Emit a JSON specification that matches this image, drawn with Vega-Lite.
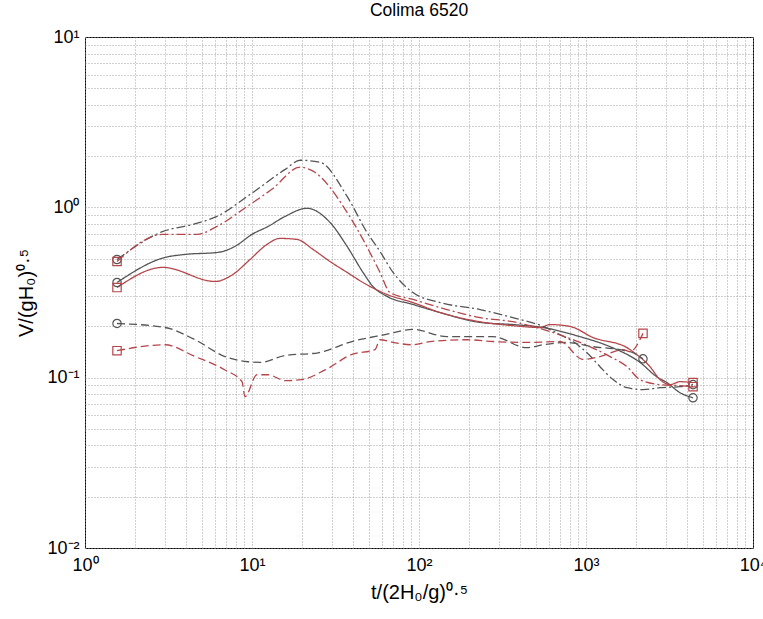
{
  "$schema": "https://vega.github.io/schema/vega-lite/v6.json",
  "width": 668,
  "height": 511,
  "autosize": {"type": "none"},
  "padding": {"left": 85, "top": 37, "right": 10, "bottom": 71},
  "background": "white",
  "title": {"text": "Colima 6520", "fontSize": 17.5, "font": "Liberation Sans", "fontWeight": "normal", "offset": 9, "anchor": "middle", "color": "black"},
  "config": {
    "view": {"stroke": "black", "strokeWidth": 1},
    "axis": {"labelFont": "Liberation Sans", "titleFont": "Liberation Sans", "labelColor": "black", "titleColor": "black", "titleFontWeight": "normal", "gridDash": [1, 2], "gridColor": "#999999", "gridOpacity": 0.9, "domain": false, "tickColor": "#555", "tickSize": 0, "labelFontSize": 18, "titleFontSize": 20}
  },
  "datasets": {
    "curves": [
      {"run": "grey", "kind": "mid", "x": 1.555, "y": 0.362},
      {"run": "grey", "kind": "mid", "x": 3.01, "y": 0.508},
      {"run": "grey", "kind": "mid", "x": 3.97, "y": 0.529},
      {"run": "grey", "kind": "mid", "x": 6.26, "y": 0.544},
      {"run": "grey", "kind": "mid", "x": 7.91, "y": 0.59},
      {"run": "grey", "kind": "mid", "x": 10.0, "y": 0.694},
      {"run": "grey", "kind": "mid", "x": 12.5, "y": 0.773},
      {"run": "grey", "kind": "mid", "x": 15.8, "y": 0.885},
      {"run": "grey", "kind": "mid", "x": 21.3, "y": 0.987},
      {"run": "grey", "kind": "mid", "x": 29.3, "y": 0.816},
      {"run": "grey", "kind": "mid", "x": 37.1, "y": 0.59},
      {"run": "grey", "kind": "mid", "x": 46.2, "y": 0.415},
      {"run": "grey", "kind": "mid", "x": 53.0, "y": 0.343},
      {"run": "grey", "kind": "mid", "x": 64.3, "y": 0.3},
      {"run": "grey", "kind": "mid", "x": 92, "y": 0.269},
      {"run": "grey", "kind": "mid", "x": 134, "y": 0.241},
      {"run": "grey", "kind": "mid", "x": 232, "y": 0.211},
      {"run": "grey", "kind": "mid", "x": 365, "y": 0.205},
      {"run": "grey", "kind": "mid", "x": 553, "y": 0.197},
      {"run": "grey", "kind": "mid", "x": 921, "y": 0.174},
      {"run": "grey", "kind": "mid", "x": 1393, "y": 0.152},
      {"run": "grey", "kind": "mid", "x": 2105, "y": 0.123},
      {"run": "grey", "kind": "mid", "x": 2661, "y": 0.101},
      {"run": "grey", "kind": "mid", "x": 3055, "y": 0.0935},
      {"run": "grey", "kind": "mid", "x": 3656, "y": 0.0816},
      {"run": "grey", "kind": "mid", "x": 4373, "y": 0.0762},

      {"run": "red", "kind": "mid", "x": 1.555, "y": 0.338},
      {"run": "red", "kind": "mid", "x": 2.93, "y": 0.444},
      {"run": "red", "kind": "mid", "x": 6.0, "y": 0.367},
      {"run": "red", "kind": "mid", "x": 7.69, "y": 0.404},
      {"run": "red", "kind": "mid", "x": 9.73, "y": 0.494},
      {"run": "red", "kind": "mid", "x": 12.3, "y": 0.606},
      {"run": "red", "kind": "mid", "x": 14.7, "y": 0.657},
      {"run": "red", "kind": "mid", "x": 18.6, "y": 0.648},
      {"run": "red", "kind": "mid", "x": 23.2, "y": 0.566},
      {"run": "red", "kind": "mid", "x": 29.3, "y": 0.481},
      {"run": "red", "kind": "mid", "x": 37.1, "y": 0.415},
      {"run": "red", "kind": "mid", "x": 46.2, "y": 0.362},
      {"run": "red", "kind": "mid", "x": 64.3, "y": 0.308},
      {"run": "red", "kind": "mid", "x": 92, "y": 0.276},
      {"run": "red", "kind": "mid", "x": 134, "y": 0.241},
      {"run": "red", "kind": "mid", "x": 232, "y": 0.213},
      {"run": "red", "kind": "mid", "x": 365, "y": 0.202},
      {"run": "red", "kind": "mid", "x": 531, "y": 0.197},
      {"run": "red", "kind": "mid", "x": 609, "y": 0.205},
      {"run": "red", "kind": "mid", "x": 802, "y": 0.2},
      {"run": "red", "kind": "mid", "x": 1102, "y": 0.172},
      {"run": "red", "kind": "mid", "x": 1762, "y": 0.15},
      {"run": "red", "kind": "mid", "x": 1911, "y": 0.142},
      {"run": "red", "kind": "mid", "x": 2417, "y": 0.116},
      {"run": "red", "kind": "mid", "x": 2774, "y": 0.0974},
      {"run": "red", "kind": "mid", "x": 3185, "y": 0.091},
      {"run": "red", "kind": "mid", "x": 3656, "y": 0.0947},
      {"run": "red", "kind": "mid", "x": 4373, "y": 0.0935},

      {"run": "grey", "kind": "upper", "x": 1.555, "y": 0.494},
      {"run": "grey", "kind": "upper", "x": 2.93, "y": 0.722},
      {"run": "grey", "kind": "upper", "x": 4.43, "y": 0.794},
      {"run": "grey", "kind": "upper", "x": 6.17, "y": 0.885},
      {"run": "grey", "kind": "upper", "x": 9.73, "y": 1.19},
      {"run": "grey", "kind": "upper", "x": 15.8, "y": 1.67},
      {"run": "grey", "kind": "upper", "x": 19.4, "y": 1.89},
      {"run": "grey", "kind": "upper", "x": 25.5, "y": 1.84},
      {"run": "grey", "kind": "upper", "x": 37.1, "y": 1.16},
      {"run": "grey", "kind": "upper", "x": 48.8, "y": 0.713},
      {"run": "grey", "kind": "upper", "x": 58.4, "y": 0.551},
      {"run": "grey", "kind": "upper", "x": 69.9, "y": 0.415},
      {"run": "grey", "kind": "upper", "x": 92, "y": 0.316},
      {"run": "grey", "kind": "upper", "x": 134, "y": 0.276},
      {"run": "grey", "kind": "upper", "x": 232, "y": 0.251},
      {"run": "grey", "kind": "upper", "x": 365, "y": 0.225},
      {"run": "grey", "kind": "upper", "x": 553, "y": 0.2},
      {"run": "grey", "kind": "upper", "x": 699, "y": 0.179},
      {"run": "grey", "kind": "upper", "x": 836, "y": 0.163},
      {"run": "grey", "kind": "upper", "x": 1014, "y": 0.14},
      {"run": "grey", "kind": "upper", "x": 1213, "y": 0.116},
      {"run": "grey", "kind": "upper", "x": 1452, "y": 0.0974},
      {"run": "grey", "kind": "upper", "x": 1762, "y": 0.0873},
      {"run": "grey", "kind": "upper", "x": 2194, "y": 0.085},
      {"run": "grey", "kind": "upper", "x": 2774, "y": 0.0873},
      {"run": "grey", "kind": "upper", "x": 3656, "y": 0.0885},
      {"run": "grey", "kind": "upper", "x": 4373, "y": 0.091},

      {"run": "red", "kind": "upper", "x": 1.555, "y": 0.481},
      {"run": "red", "kind": "upper", "x": 2.93, "y": 0.694},
      {"run": "red", "kind": "upper", "x": 4.68, "y": 0.694},
      {"run": "red", "kind": "upper", "x": 6.17, "y": 0.773},
      {"run": "red", "kind": "upper", "x": 9.33, "y": 1.01},
      {"run": "red", "kind": "upper", "x": 13.2, "y": 1.28},
      {"run": "red", "kind": "upper", "x": 19.4, "y": 1.72},
      {"run": "red", "kind": "upper", "x": 23.2, "y": 1.63},
      {"run": "red", "kind": "upper", "x": 37.1, "y": 0.935},
      {"run": "red", "kind": "upper", "x": 46.2, "y": 0.648},
      {"run": "red", "kind": "upper", "x": 58.4, "y": 0.415},
      {"run": "red", "kind": "upper", "x": 67.0, "y": 0.316},
      {"run": "red", "kind": "upper", "x": 92, "y": 0.288},
      {"run": "red", "kind": "upper", "x": 147, "y": 0.251},
      {"run": "red", "kind": "upper", "x": 232, "y": 0.225},
      {"run": "red", "kind": "upper", "x": 365, "y": 0.213},
      {"run": "red", "kind": "upper", "x": 553, "y": 0.192},
      {"run": "red", "kind": "upper", "x": 921, "y": 0.161},
      {"run": "red", "kind": "upper", "x": 1393, "y": 0.133},
      {"run": "red", "kind": "upper", "x": 1762, "y": 0.116},
      {"run": "red", "kind": "upper", "x": 2105, "y": 0.0974},
      {"run": "red", "kind": "upper", "x": 2774, "y": 0.091},
      {"run": "red", "kind": "upper", "x": 3656, "y": 0.0897},
      {"run": "red", "kind": "upper", "x": 4373, "y": 0.0885},

      {"run": "grey", "kind": "lower", "x": 1.555, "y": 0.208},
      {"run": "grey", "kind": "lower", "x": 3.01, "y": 0.197},
      {"run": "grey", "kind": "lower", "x": 4.56, "y": 0.167},
      {"run": "grey", "kind": "lower", "x": 6.89, "y": 0.133},
      {"run": "grey", "kind": "lower", "x": 9.46, "y": 0.124},
      {"run": "grey", "kind": "lower", "x": 11.2, "y": 0.123},
      {"run": "grey", "kind": "lower", "x": 15.8, "y": 0.135},
      {"run": "grey", "kind": "lower", "x": 24.9, "y": 0.14},
      {"run": "grey", "kind": "lower", "x": 39.7, "y": 0.163},
      {"run": "grey", "kind": "lower", "x": 62.6, "y": 0.179},
      {"run": "grey", "kind": "lower", "x": 92, "y": 0.192},
      {"run": "grey", "kind": "lower", "x": 147, "y": 0.174},
      {"run": "grey", "kind": "lower", "x": 277, "y": 0.174},
      {"run": "grey", "kind": "lower", "x": 443, "y": 0.15},
      {"run": "grey", "kind": "lower", "x": 553, "y": 0.156},
      {"run": "grey", "kind": "lower", "x": 769, "y": 0.161},
      {"run": "grey", "kind": "lower", "x": 1102, "y": 0.152},
      {"run": "grey", "kind": "lower", "x": 1600, "y": 0.146},
      {"run": "grey", "kind": "lower", "x": 1911, "y": 0.14},
      {"run": "grey", "kind": "lower", "x": 2194, "y": 0.129},

      {"run": "red", "kind": "lower", "x": 1.555, "y": 0.144},
      {"run": "red", "kind": "lower", "x": 3.01, "y": 0.156},
      {"run": "red", "kind": "lower", "x": 4.56, "y": 0.133},
      {"run": "red", "kind": "lower", "x": 6.89, "y": 0.111},
      {"run": "red", "kind": "lower", "x": 8.71, "y": 0.0947},
      {"run": "red", "kind": "lower", "x": 9.08, "y": 0.0773},
      {"run": "red", "kind": "lower", "x": 10.7, "y": 0.104},
      {"run": "red", "kind": "lower", "x": 12.5, "y": 0.104},
      {"run": "red", "kind": "lower", "x": 15.8, "y": 0.096},
      {"run": "red", "kind": "lower", "x": 19.9, "y": 0.0974},
      {"run": "red", "kind": "lower", "x": 27.4, "y": 0.111},
      {"run": "red", "kind": "lower", "x": 39.7, "y": 0.137},
      {"run": "red", "kind": "lower", "x": 54.5, "y": 0.146},
      {"run": "red", "kind": "lower", "x": 58.4, "y": 0.167},
      {"run": "red", "kind": "lower", "x": 69.9, "y": 0.161},
      {"run": "red", "kind": "lower", "x": 92, "y": 0.156},
      {"run": "red", "kind": "lower", "x": 116, "y": 0.163},
      {"run": "red", "kind": "lower", "x": 194, "y": 0.167},
      {"run": "red", "kind": "lower", "x": 277, "y": 0.163},
      {"run": "red", "kind": "lower", "x": 443, "y": 0.161},
      {"run": "red", "kind": "lower", "x": 699, "y": 0.163},
      {"run": "red", "kind": "lower", "x": 960, "y": 0.128},
      {"run": "red", "kind": "lower", "x": 1213, "y": 0.133},
      {"run": "red", "kind": "lower", "x": 1667, "y": 0.146},
      {"run": "red", "kind": "lower", "x": 1834, "y": 0.142},
      {"run": "red", "kind": "lower", "x": 2194, "y": 0.182}
    ]
  },
  "data": {"name": "curves"},
  "encoding": {
    "x": {
      "field": "x", "type": "quantitative",
      "scale": {"type": "log", "domain": [1, 10000], "nice": false},
      "axis": {
        "title": "t/(2H₀/g)⁰·⁵", "titlePadding": 8,
        "values": [1,2,3,4,5,6,7,8,9,10,20,30,40,50,60,70,80,90,100,200,300,400,500,600,700,800,900,1000,2000,3000,4000,5000,6000,7000,8000,9000,10000],
        "labelExpr": "datum.value == 1 ? '10⁰' : datum.value == 10 ? '10¹' : datum.value == 100 ? '10²' : datum.value == 1000 ? '10³' : datum.value == 10000 ? '10⁴' : ''",
        "labelPadding": 8, "labelFlush": false, "labelOverlap": false, "labelBound": false
      }
    },
    "y": {
      "field": "y", "type": "quantitative",
      "scale": {"type": "log", "domain": [0.01, 10], "nice": false},
      "axis": {
        "title": "V/(gH₀)⁰·⁵", "titlePadding": 10,
        "values": [0.01,0.02,0.03,0.04,0.05,0.06,0.07,0.08,0.09,0.1,0.2,0.3,0.4,0.5,0.6,0.7,0.8,0.9,1,2,3,4,5,6,7,8,9,10],
        "labelExpr": "abs(datum.value - 0.01) < 1e-9 ? '10⁻²' : abs(datum.value - 0.1) < 1e-9 ? '10⁻¹' : datum.value == 1 ? '10⁰' : datum.value == 10 ? '10¹' : ''",
        "labelPadding": 6, "labelFlush": false, "labelOverlap": false
      }
    },
    "color": {
      "field": "run", "type": "nominal",
      "scale": {"domain": ["grey", "red"], "range": ["#555555", "#b5464b"]},
      "legend": null
    }
  },
  "layer": [
    {
      "mark": {"type": "line", "strokeWidth": 1.3, "interpolate": "monotone"},
      "encoding": {
        "detail": {"field": "kind"},
        "strokeDash": {
          "field": "kind", "type": "nominal",
          "scale": {"domain": ["upper", "mid", "lower"], "range": [[9, 3, 2, 3], [1, 0], [8, 4]]},
          "legend": null
        }
      }
    },
    {
      "transform": [
        {"joinaggregate": [{"op": "min", "field": "x", "as": "xmin"}, {"op": "max", "field": "x", "as": "xmax"}], "groupby": ["run", "kind"]},
        {"filter": "datum.x == datum.xmin || datum.x == datum.xmax"}
      ],
      "mark": {"type": "point", "filled": false, "size": 70, "strokeWidth": 1.2, "opacity": 1},
      "encoding": {
        "shape": {"field": "run", "type": "nominal", "scale": {"domain": ["grey", "red"], "range": ["circle", "square"]}, "legend": null}
      }
    }
  ]
}
